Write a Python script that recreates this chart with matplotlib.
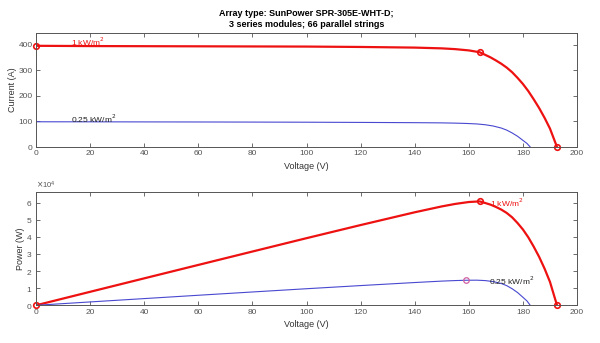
import numpy as np
import matplotlib
matplotlib.use('Agg')
import matplotlib.pyplot as plt

plt.rcParams['font.family'] = ['Liberation Sans', 'DejaVu Sans']

# I-V curve points of the array (1 kW/m^2 and 0.25 kW/m^2)
v_full = [0, 20, 40, 60, 80, 100, 120, 140, 150, 155, 160, 164, 166, 168, 170,
          172, 174, 176, 178, 180, 182, 184, 186, 188, 190, 192.6]
i_full = [395, 394, 393.5, 393, 392.5, 392, 390.5, 388, 385, 382, 377, 370, 360,
          350, 338, 325, 310, 292, 270, 246, 218, 186, 152, 114, 72, 0]

v_quarter = [0, 20, 40, 60, 80, 100, 120, 140, 150, 155, 159, 163, 166, 169, 172,
             174, 176, 178, 180, 181.5, 182.7]
i_quarter = [98.5, 98.3, 98, 97.7, 97.3, 96.8, 96, 95, 94.2, 93.2, 92, 90, 87, 82,
             74, 66, 55, 42, 26, 14, 0]

# index of the maximum power point on each curve
mpp_full = 11
mpp_quarter = 10

red = '#ee1111'
blue = '#4848d0'
grey = '#555555'


def style_axes(ax, ylim, yticks):
    ax.set_xlim(0, 200)
    ax.set_ylim(*ylim)
    ax.set_xticks(np.arange(0, 201, 20))
    ax.set_yticks(yticks)
    ax.tick_params(direction='in', length=3, width=0.6, top=True, right=True,
                   labelsize=6, colors=grey, pad=2.5)
    for s in ax.spines.values():
        s.set_color(grey)
        s.set_linewidth(0.7)
    ax.set_xlabel('Voltage (V)', fontsize=6.5, color='#333333', labelpad=3)


def main():
    v1 = np.array(v_full)
    i1 = np.array(i_full)
    v2 = np.array(v_quarter)
    i2 = np.array(i_quarter)
    p1 = v1 * i1
    p2 = v2 * i2

    fig = plt.figure(figsize=(6.0, 3.43), dpi=100)
    ax1 = fig.add_axes([0.06, 0.5714, 0.9017, 0.3324])
    ax2 = fig.add_axes([0.06, 0.1099, 0.9017, 0.3295])

    # current vs voltage
    ax1.plot(v1, i1, color=red, lw=1.6)
    ax1.plot(v2, i2, color=blue, lw=0.8)
    ax1.plot([v1[0], v1[mpp_full], v1[-1]], [i1[0], i1[mpp_full], i1[-1]], 'o',
             mfc='none', mec=red, ms=4, mew=1.2, clip_on=False)
    ax1.text(13, 410, '1 kW/m$^2$', color=red, fontsize=6, va='center')
    ax1.text(13, 110, '0.25 kW/m$^2$', color='#222222', fontsize=6, va='center')
    style_axes(ax1, (0, 445), [0, 100, 200, 300, 400])
    ax1.set_ylabel('Current (A)', fontsize=6.5, color='#333333', labelpad=1)
    ax1.set_title('Array type: SunPower SPR-305E-WHT-D;\n3 series modules; 66 parallel strings',
                  fontsize=6.5, fontweight='bold', pad=4, linespacing=1.3)

    # power vs voltage
    ax2.plot(v1, p1, color=red, lw=1.6)
    ax2.plot(v2, p2, color=blue, lw=0.8)
    ax2.plot([v1[0], v1[mpp_full], v1[-1]], [p1[0], p1[mpp_full], p1[-1]], 'o',
             mfc='none', mec=red, ms=4, mew=1.2, clip_on=False)
    ax2.plot([v2[mpp_quarter]], [p2[mpp_quarter]], 'o', mfc='none', mec='#d060a0',
             ms=4, mew=0.9)
    ax2.text(168, 6.0e4, '1 kW/m$^2$', color=red, fontsize=6, va='center')
    ax2.text(167.5, 1.42e4, '0.25 kW/m$^2$', color='#222222', fontsize=6, va='center')
    style_axes(ax2, (0, 6.6e4), np.arange(0, 6.1e4, 1e4))
    ax2.ticklabel_format(axis='y', style='sci', scilimits=(4, 4), useMathText=True)
    ax2.yaxis.get_offset_text().set_fontsize(5.5)
    ax2.yaxis.get_offset_text().set_color(grey)
    ax2.set_ylabel('Power (W)', fontsize=6.5, color='#333333', labelpad=1)

    fig.savefig('out.png', dpi=100)


if __name__ == '__main__':
    main()
